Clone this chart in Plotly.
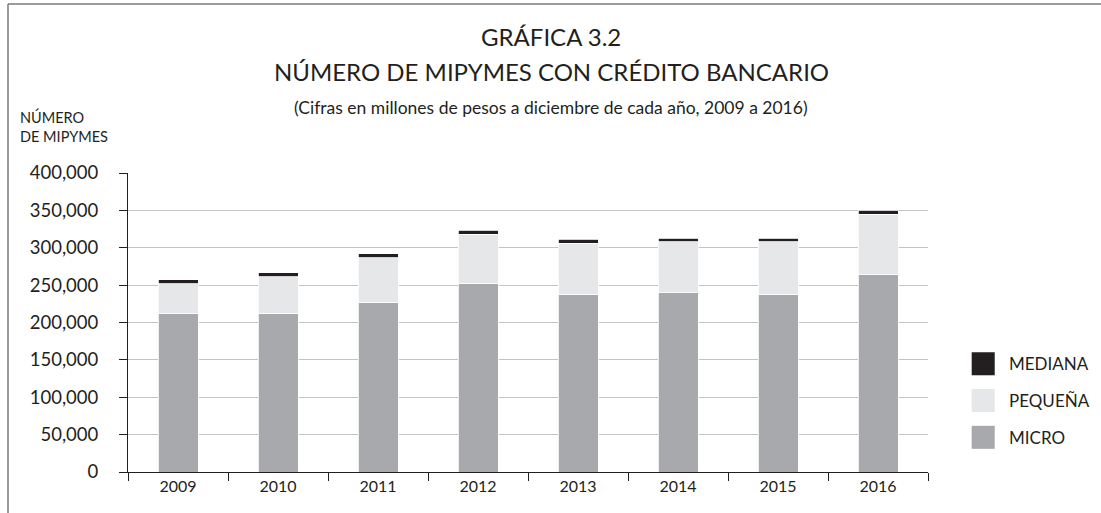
import plotly.graph_objects as go

years = ["2009", "2010", "2011", "2012", "2013", "2014", "2015", "2016"]
micro = [211700, 212600, 227300, 252700, 237500, 240100, 237500, 264700]
pequena = [40400, 48400, 59500, 65300, 68500, 68000, 70500, 80200]
mediana = [4900, 5400, 5300, 5300, 5300, 4900, 5000, 5000]

series_names = ["MICRO", "PEQUEÑA", "MEDIANA"]
series_colors = ["#a7a9ac", "#e6e7e8", "#231f20"]
y_ticks = [0, 50000, 100000, 150000, 200000, 250000, 300000, 350000, 400000]

FONT = "Lato"
INK = "#231f20"

fig = go.Figure()
for name, vals, col in zip(series_names, [micro, pequena, mediana], series_colors):
    fig.add_trace(go.Bar(x=years, y=vals, name=name, marker_color=col,
                         marker_line=dict(color="white", width=0.8),
                         showlegend=False))

# hand-made legend (big square swatches like the original)
for i, (name, col) in enumerate(zip(series_names[::-1], series_colors[::-1])):
    yc = 0.362 - i * 0.123
    fig.add_shape(type="rect", xref="paper", yref="paper",
                  x0=1.0546, x1=1.0834, y0=yc - 0.0385, y1=yc + 0.0385,
                  fillcolor=col, line_width=0)
    fig.add_annotation(xref="paper", yref="paper", x=1.0985, y=yc, text=name,
                       showarrow=False, xanchor="left", yanchor="middle",
                       font=dict(size=17, color=INK, family=FONT))

# outer frame: top and left lines only
fig.add_shape(type="line", xref="paper", yref="paper", x0=-0.15, x1=1.22,
              y0=1.565, y1=1.565, line=dict(color="#7a7a7a", width=1.5))
fig.add_shape(type="line", xref="paper", yref="paper", x0=-0.15, x1=-0.15,
              y0=1.565, y1=-0.15, line=dict(color="#7a7a7a", width=1.5))

titles = [("GRÁFICA 3.2", 1.458, 24),
          ("NÚMERO DE MIPYMES CON CRÉDITO BANCARIO", 1.3378, 24),
          ("(Cifras en millones de pesos a diciembre de cada año, 2009 a 2016)", 1.2207, 17.5)]
for txt, yy, sz in titles:
    fig.add_annotation(xref="paper", yref="paper", x=0.529, y=yy, text=txt,
                       showarrow=False, xanchor="center", yanchor="middle",
                       font=dict(size=sz, color=INK, family=FONT))

fig.add_annotation(xref="paper", yref="paper", x=-0.137, y=1.157,
                   text="NÚMERO<br>DE MIPYMES", showarrow=False, align="left",
                   xanchor="left", yanchor="middle",
                   font=dict(size=14.5, color=INK, family=FONT))

fig.update_layout(
    barmode="stack", bargap=0.6,
    width=1101, height=513,
    margin=dict(l=128, r=173, t=173, b=41),
    paper_bgcolor="white", plot_bgcolor="white",
    font=dict(family=FONT, color=INK),
)
fig.update_yaxes(range=[0, 400000], tickvals=y_ticks, tickformat=",d",
                 showgrid=True, gridcolor="#c4c4c4", gridwidth=1,
                 showline=True, linecolor=INK, linewidth=1,
                 ticks="outside", ticklen=8, tickcolor=INK,
                 ticklabelstandoff=17, tickfont=dict(size=18.5, color=INK),
                 zeroline=False)
fig.update_xaxes(showline=True, linecolor=INK, linewidth=1,
                 ticks="outside", tickson="boundaries", ticklen=8, tickcolor=INK,
                 tickfont=dict(size=16, color=INK), showgrid=False)

# the page body has an 8px default margin; drop it so the figure sits at 0,0
fig.write_html("out.html", config={"displayModeBar": False},
               post_script="document.body.style.margin='0px';")
